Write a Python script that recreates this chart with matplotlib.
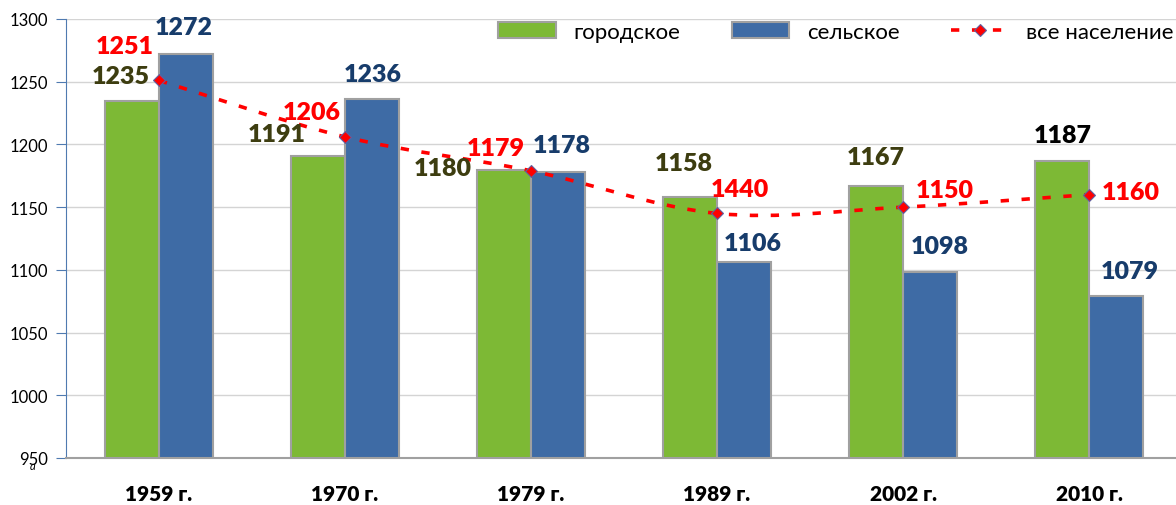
import numpy as np
import matplotlib.pyplot as plt
from matplotlib.path import Path
from matplotlib.patches import PathPatch, Patch
from matplotlib.lines import Line2D

plt.rcParams['font.family'] = ['Lato', 'Open Sans', 'DejaVu Sans']

years = ["1959 г.", "1970 г.", "1979 г.", "1989 г.", "2002 г.", "2010 г."]
urban = [1235, 1191, 1180, 1158, 1167, 1187]
rural = [1272, 1236, 1178, 1106, 1098, 1079]
total = [1251, 1206, 1179, 1145, 1150, 1160]
total_labels = ["1251", "1206", "1179", "1440", "1150", "1160"]

# label offsets from the anchor (pixels, y up), text centre
urban_off = [(-11, 27), (-41, 24), (-61, 4), (-6, 36), (0, 31), (1, 28)]
rural_off = [(-2, 29), (1, 27), (4, 29), (9, 21), (10, 28), (14, 27)]
total_off = [(-34, 36), (-33, 27), (-35, 25), (23, 26), (42, 19), (42, 5)]
urban_col = ['#3d3d10'] * 5 + ['#000000']

green = '#7db935'
blue = '#3e6ba5'
red = '#ff0000'
navy = '#173c6b'

fig = plt.figure(figsize=(11.76, 5.06), dpi=100)
ax = fig.add_axes([66 / 1176, 47 / 506, 1116 / 1176, 439 / 506])

x = np.arange(len(years))
w = 0.29
ax.bar(x - w / 2, urban, w, color=green, edgecolor='#a0a0a0', linewidth=1.5, zorder=2)
ax.bar(x + w / 2, rural, w, color=blue, edgecolor='#a0a0a0', linewidth=1.5, zorder=2)

# smoothed line through the total values (bezier segments)
pts = np.column_stack([x, total]).astype(float)
ext = np.vstack([pts[0], pts, pts[-1]])
verts = [pts[0]]
codes = [Path.MOVETO]
for i in range(len(pts) - 1):
    p0, p1, p2, p3 = ext[i], ext[i + 1], ext[i + 2], ext[i + 3]
    verts += [p1 + (p2 - p0) / 6, p2 - (p3 - p1) / 6, p2]
    codes += [Path.CURVE4] * 3
ax.add_patch(PathPatch(Path(verts, codes), fill=False, edgecolor=red, linewidth=2.6,
                       linestyle=(0, (2.3, 3.5)), zorder=3))
ax.plot(x, total, linestyle='none', marker='D', markersize=6.5, color=red,
        markeredgecolor='#6060a0', markeredgewidth=0.8, zorder=4)

lab = dict(fontsize=18, fontweight='heavy', ha='center', va='baseline',
           textcoords='offset pixels', zorder=5)
for i in range(len(years)):
    dx, dy = urban_off[i]
    ax.annotate(str(urban[i]), (x[i] - w / 2, urban[i]), xytext=(dx, dy - 9),
                color=urban_col[i], **lab)
    dx, dy = rural_off[i]
    ax.annotate(str(rural[i]), (x[i] + w / 2, rural[i]), xytext=(dx, dy - 9),
                color=navy, **lab)
    dx, dy = total_off[i]
    ax.annotate(total_labels[i], (x[i], total[i]), xytext=(dx, dy - 9),
                color=red, **lab)

ax.set_xlim(-0.5, 5.5)
ax.set_ylim(950, 1300)
ax.set_yticks(range(950, 1301, 50))
ax.yaxis.grid(True, color='#d4d4d4', linewidth=1)
ax.set_axisbelow(True)
ax.set_xticks(x)
ax.set_xticklabels(years, fontsize=15, fontweight='heavy')
ax.tick_params(axis='x', length=0, pad=19)
ax.tick_params(axis='y', length=7, color='#4f7ab0', labelsize=12, pad=6)
for s in ['top', 'right']:
    ax.spines[s].set_visible(False)
ax.spines['left'].set_color('#4f7ab0')
ax.spines['bottom'].set_color('#a0a0a0')
ax.spines['bottom'].set_linewidth(1.5)

fig.text(33 / 1176, 1 - 467 / 506, "а", fontsize=8, style='italic', ha='center', va='center')

handles = [Patch(facecolor=green, edgecolor='#a0a0a0', linewidth=1.5),
           Patch(facecolor=blue, edgecolor='#a0a0a0', linewidth=1.5),
           Line2D([], [], color=red, linewidth=2.6, linestyle=(0, (2.3, 3.5)),
                  marker='D', markersize=6.5, markeredgecolor='#6060a0', markeredgewidth=0.8)]
fig.legend(handles, ["городское", "сельское", "все население"], ncol=3, frameon=False,
           loc='center left', bbox_to_anchor=(498 / 1176, 1 - 33 / 506), borderpad=0,
           borderaxespad=0, fontsize=16, handlelength=2.6, handleheight=0.75,
           handletextpad=0.8, columnspacing=2.3)

fig.savefig('out.png', dpi=100)
